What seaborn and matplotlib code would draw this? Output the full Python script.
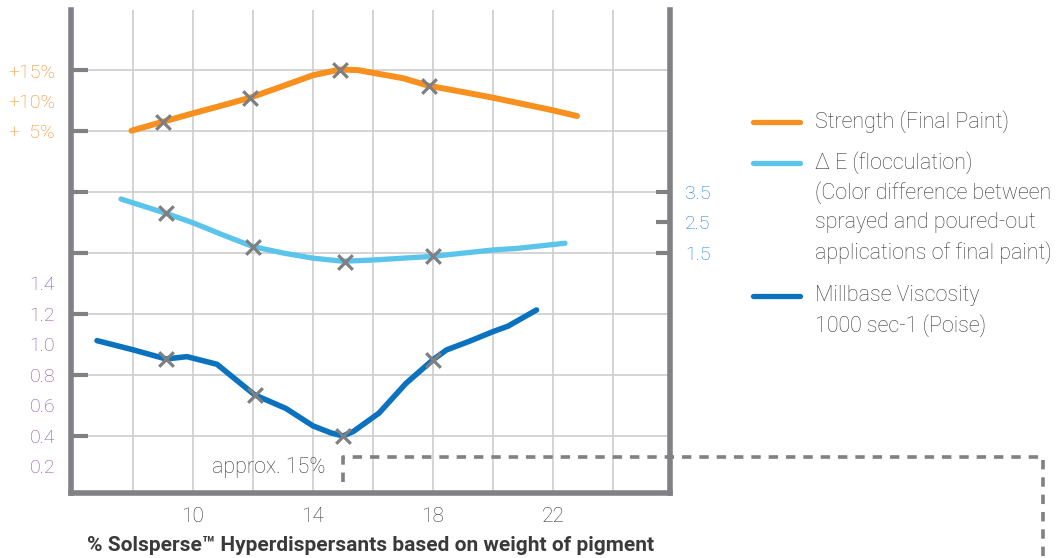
import matplotlib
matplotlib.use("Agg")
import matplotlib.pyplot as plt
import seaborn as sns
from matplotlib.lines import Line2D
from matplotlib.ticker import FixedLocator, FixedFormatter

# ---------------- data ----------------
strength_x = [7.95, 9.0, 10.0, 11.0, 11.9, 13.0, 14.0, 14.9, 15.5, 16.0, 17.0, 17.85, 19.0, 20.0, 21.0, 22.0, 22.8]
strength_y = [5.05, 6.55, 7.95, 9.3, 10.55, 12.5, 14.3, 15.25, 15.15, 14.7, 13.8, 12.55, 11.5, 10.55, 9.5, 8.45, 7.5]
strength_mx = [9.0, 11.9, 14.9, 17.85]
strength_my = [6.55, 10.55, 15.25, 12.55]

de_x = [7.6, 9.1, 10.0, 11.0, 12.0, 13.0, 14.0, 15.0, 16.0, 18.0, 20.0, 20.8, 22.4]
de_y = [3.27, 2.80, 2.49, 2.09, 1.71, 1.50, 1.33, 1.23, 1.27, 1.39, 1.60, 1.65, 1.82]
de_mx = [9.1, 12.0, 15.05, 18.0]
de_my = [2.80, 1.71, 1.22, 1.40]

visc_x = [6.8, 8.0, 9.1, 9.8, 10.8, 12.05, 13.1, 14.0, 14.6, 15.0, 15.35, 16.2, 17.1, 18.0, 18.45, 19.2, 20.0, 20.5, 21.45]
visc_y = [1.025, 0.965, 0.905, 0.92, 0.87, 0.67, 0.58, 0.466, 0.42, 0.40, 0.43, 0.55, 0.745, 0.90, 0.964, 1.02, 1.084, 1.12, 1.226]
visc_mx = [9.1, 12.05, 15.0, 18.0]
visc_my = [0.905, 0.67, 0.40, 0.90]

x_grid = [8, 10, 12, 14, 16, 18, 20, 22, 24]
x_labels = ["", "10", "", "14", "", "18", "", "22", ""]
visc_grid = [0.4, 0.8, 1.2, 1.6, 2.0, 2.4, 2.8]
visc_ticks = [0.2, 0.4, 0.6, 0.8, 1.0, 1.2, 1.4]
visc_labels = ["0.2", "0.4", "0.6", "0.8", "1.0", "1.2", "1.4"]
strength_ticks = [5, 10, 15]
strength_labels = ["+  5%", "+10%", "+15%"]
de_ticks = [1.5, 2.5, 3.5]
de_labels = ["1.5", "2.5", "3.5"]
optimum_x = 15

legend_entries = [
    ("Strength (Final Paint)",),
    ("\u0394 E (flocculation)", "(Color difference between", "sprayed and poured-out",
     "applications of final paint)"),
    ("Millbase Viscosity", "1000 sec-1 (Poise)"),
]

# ---------------- style ----------------
sns.set_theme(style="white")
plt.rcParams["font.family"] = ["Roboto", "DejaVu Sans"]
plt.rcParams["font.weight"] = "light"

ORANGE = "#F7901E"
LBLUE = "#5BC4EB"
DBLUE = "#0A72BF"
SPINE = "#808085"
GRID = "#CDCDD0"
MARK = "#7F7F82"
TXT = "#3A3A3A"
PURPLE = "#8E4FA6"
ORANGE_T = "#F28C20"
BLUE_T = "#1F80CC"

W, H = 1057, 558
fig = plt.figure(figsize=(W / 100, H / 100), dpi=100)
ax = fig.add_axes([71 / W, 1 - 493 / H, (670 - 71) / W, (493 - 10) / H])
ax_s = ax.twinx()
ax_e = ax.twinx()

# lines
sns.lineplot(x=strength_x, y=strength_y, ax=ax_s, color=ORANGE, linewidth=4.3,
             sort=False, estimator=None, solid_capstyle="round")
sns.lineplot(x=de_x, y=de_y, ax=ax_e, color=LBLUE, linewidth=3.8,
             sort=False, estimator=None, solid_capstyle="round")
sns.lineplot(x=visc_x, y=visc_y, ax=ax, color=DBLUE, linewidth=4.0,
             sort=False, estimator=None, solid_capstyle="round")

mk = dict(marker="x", s=110, color=MARK, linewidth=2.3, zorder=5)
ax_s.scatter(strength_mx, strength_my, **mk)
ax_e.scatter(de_mx, de_my, **mk)
ax.scatter(visc_mx, visc_my, **mk)
for a in (ax, ax_s, ax_e):
    a.set_ylabel("")

ax.set_xlim(5.933, 25.9)
ax.set_ylim(0.026, 3.193)

# x axis
ax.xaxis.set_major_locator(FixedLocator(x_grid))
ax.xaxis.set_major_formatter(FixedFormatter(x_labels))
ax.tick_params(axis="x", length=0, pad=10, labelsize=15, labelcolor=TXT)
ax.grid(axis="x", color=GRID, linewidth=1.2)

# y axis: gridlines w/ stubs (major), purple labels (minor)
ax.yaxis.remove_overlapping_locs = False
ax.yaxis.set_major_locator(FixedLocator(visc_grid))
ax.yaxis.set_minor_locator(FixedLocator(visc_ticks))
ax.yaxis.set_minor_formatter(FixedFormatter(visc_labels))
ax.tick_params(axis="y", which="major", direction="in", length=12, width=3,
               color=SPINE, labelleft=False, left=True, right=False)
ax.tick_params(axis="y", which="minor", length=0, pad=11.5, labelsize=14,
               labelcolor=PURPLE, labelleft=True, left=True, right=False)
ax.grid(axis="y", which="major", color=GRID, linewidth=1.2)

for side in ["left", "right", "bottom"]:
    ax.spines[side].set_visible(True)
    ax.spines[side].set_color(SPINE)
    ax.spines[side].set_linewidth(4)
    ax.spines[side].set_capstyle("projecting")
ax.spines["top"].set_visible(False)

ax.set_xlabel("% Solsperse\u2122 Hyperdispersants based on weight of pigment",
              fontsize=15, fontweight="bold", color=TXT, labelpad=7)

# strength axis (labels on the left)
ax_s.set_ylim(-55.33, 25.17)
ax_s.yaxis.tick_left()
ax_s.yaxis.set_major_locator(FixedLocator(strength_ticks))
ax_s.yaxis.set_major_formatter(FixedFormatter(strength_labels))
ax_s.tick_params(axis="y", length=0, pad=11.5, labelsize=14, labelcolor=ORANGE_T,
                 labelleft=True, labelright=False)
for s in ax_s.spines.values():
    s.set_visible(False)

# delta E axis (right)
ax_e.set_ylim(-6.369, 9.467)
ax_e.yaxis.tick_right()
ax_e.yaxis.set_major_locator(FixedLocator(de_ticks))
ax_e.yaxis.set_major_formatter(FixedFormatter(de_labels))
ax_e.tick_params(axis="y", direction="in", length=10, width=3, color=SPINE,
                 pad=11, labelsize=14, labelcolor=BLUE_T, labelright=True)
for s in ax_e.spines.values():
    s.set_visible(False)

# annotation "approx. 15%"
fig.canvas.draw()
px = ax.transData.transform((optimum_x, 0))[0]
ydash = 457
pts_x = [px, px, 1043, 1043]
pts_y = [482, ydash, ydash, H + 5]
fig.add_artist(Line2D([p / W for p in pts_x], [1 - p / H for p in pts_y],
                      transform=fig.transFigure, color=SPINE, linewidth=2.6,
                      dashes=(2.6, 2.2), clip_on=False))
ax.text(optimum_x - 0.6, 0.19, "approx. 15%", ha="right", va="center",
        fontsize=15.5, color=TXT)

# legend (manual)
colors = [ORANGE, LBLUE, DBLUE]
starts = [122, 163, 296]
for (lines, c, y0) in zip(legend_entries, colors, starts):
    fig.add_artist(Line2D([753 / W, 800 / W], [1 - y0 / H] * 2, transform=fig.transFigure,
                          color=c, linewidth=3.8))
    for i, t in enumerate(lines):
        fig.text(815 / W, 1 - (y0 + i * 30) / H, t, ha="left", va="center",
                 fontsize=15.5, color=TXT)

fig.savefig("out.png", dpi=100)
